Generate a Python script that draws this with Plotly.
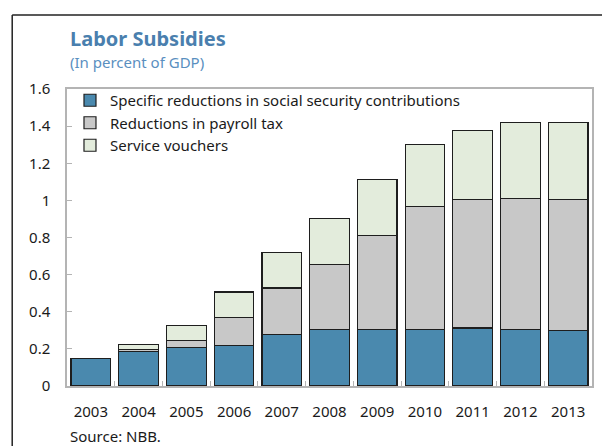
import plotly.graph_objects as go

years = ["2003", "2004", "2005", "2006", "2007", "2008", "2009", "2010", "2011", "2012", "2013"]
social_security = [0.147, 0.185, 0.207, 0.220, 0.277, 0.303, 0.306, 0.303, 0.312, 0.306, 0.299]
payroll_tax = [0.0, 0.010, 0.040, 0.151, 0.251, 0.351, 0.505, 0.663, 0.693, 0.703, 0.706]
service_vouchers = [0.003, 0.030, 0.079, 0.135, 0.192, 0.249, 0.300, 0.337, 0.373, 0.411, 0.415]

series = [
    ("Specific reductions in social security contributions", social_security, "#4a89ae"),
    ("Reductions in payroll tax", payroll_tax, "#c8c8c8"),
    ("Service vouchers", service_vouchers, "#e3ecdc"),
]

FONT = "Noto Sans"
W, H = 602, 446
ML, MR, MT, MB = 67, 8, 89, 60
pw = W - ML - MR
ph = H - MT - MB

fig = go.Figure()
for name, vals, color in series:
    fig.add_trace(go.Bar(
        x=years, y=vals, name=name,
        marker=dict(color=color, line=dict(color="#1e1e1e", width=1.2)),
    ))

fig.update_layout(
    width=W, height=H,
    margin=dict(l=ML, r=MR, t=MT, b=MB),
    paper_bgcolor="white", plot_bgcolor="white",
    barmode="stack", bargap=0.17,
    font=dict(family=FONT, size=15, color="#1a1a1a"),
    showlegend=True,
    legend=dict(
        x=(70 - ML) / pw, y=1 + (5 / ph), xanchor="left", yanchor="top",
        traceorder="normal", bgcolor="rgba(0,0,0,0)",
        font=dict(family=FONT, size=15, color="#1a1a1a"),
        itemclick=False,
    ),
    xaxis=dict(
        type="category", showline=True, mirror=True, linecolor="#b4b4b4", linewidth=1.5,
        ticks="inside", tickson="boundaries", ticklen=5, tickcolor="#b4b4b4",
        showgrid=False, ticklabelstandoff=11,
        tickfont=dict(family=FONT, size=15, color="#1a1a1a"),
    ),
    yaxis=dict(
        range=[0, 1.6], dtick=0.2, tickformat="~g",
        showline=True, mirror=True, linecolor="#b4b4b4", linewidth=1.5,
        ticks="inside", ticklen=5, tickcolor="#b4b4b4",
        showgrid=False, zeroline=False, ticklabelstandoff=12,
        tickfont=dict(family=FONT, size=15, color="#1a1a1a"),
    ),
)

# Outer frame (left and top edges)
fx = (12 - ML) / pw
fy_top = 1 + (MT - 15) / ph
fig.add_shape(type="line", xref="paper", yref="paper", x0=fx, x1=(W + 5 - ML) / pw,
              y0=fy_top, y1=fy_top, line=dict(color="#222222", width=1.5))
fig.add_shape(type="line", xref="paper", yref="paper", x0=fx, x1=fx,
              y0=fy_top, y1=-(MB + 10) / ph, line=dict(color="#222222", width=1.5))

fig.add_annotation(text="<b>Labor Subsidies</b>", xref="paper", yref="paper",
                   x=(68 - ML) / pw, y=1 + (MT - 38) / ph, xanchor="left", yanchor="middle",
                   showarrow=False, font=dict(family=FONT, size=20, color="#4a7fae"))
fig.add_annotation(text="(In percent of GDP)", xref="paper", yref="paper",
                   x=(68 - ML) / pw, y=1 + (MT - 62) / ph, xanchor="left", yanchor="middle",
                   showarrow=False, font=dict(family=FONT, size=15, color="#5a8fbf"))
fig.add_annotation(text="Source: NBB.", xref="paper", yref="paper",
                   x=(68 - ML) / pw, y=-(436 - MT - ph) / ph, xanchor="left", yanchor="middle",
                   showarrow=False, font=dict(family=FONT, size=15, color="#1a1a1a"))

fig.write_html("out.html")
